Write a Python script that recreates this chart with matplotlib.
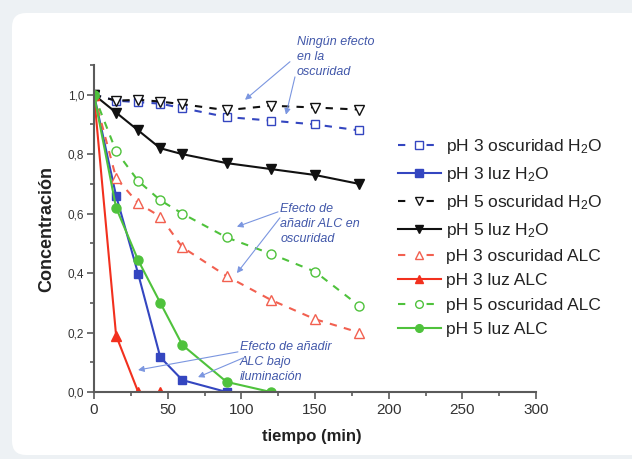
import numpy as np
import matplotlib
matplotlib.use("Agg")
import matplotlib.pyplot as plt
from matplotlib.patches import FancyBboxPatch
from matplotlib.ticker import MultipleLocator, FuncFormatter

plt.rcParams['font.family'] = ['Liberation Sans', 'DejaVu Sans']
plt.rcParams['mathtext.default'] = 'regular'

# tiempo de muestreo (min)
t_largo = [0, 15, 30, 45, 60, 90, 120, 150, 180]
t_azul_luz = [0, 15, 30, 45, 60, 90]
t_rojo_luz = [0, 15, 30, 45]
t_verde_luz = [0, 15, 30, 45, 60, 90, 120]

# concentración relativa
ph3_osc_h2o = [1.0, 0.98, 0.975, 0.97, 0.955, 0.925, 0.913, 0.90, 0.88]
ph3_luz_h2o = [1.0, 0.66, 0.397, 0.117, 0.04, 0.0]
ph5_osc_h2o = [1.0, 0.98, 0.983, 0.977, 0.968, 0.948, 0.963, 0.957, 0.95]
ph5_luz_h2o = [1.0, 0.94, 0.88, 0.82, 0.80, 0.77, 0.75, 0.73, 0.70]
ph3_osc_alc = [1.0, 0.72, 0.635, 0.59, 0.487, 0.39, 0.31, 0.245, 0.20]
ph3_luz_alc = [1.0, 0.19, 0.0, 0.0]
ph5_osc_alc = [1.0, 0.81, 0.71, 0.645, 0.60, 0.52, 0.465, 0.405, 0.29]
ph5_luz_alc = [1.0, 0.62, 0.443, 0.30, 0.158, 0.034, 0.0]

azul = '#3446c0'
rojo = '#f2301e'
rojo_claro = '#f26050'
verde = '#4fc23c'
negro = '#111111'

fig = plt.figure(figsize=(6.32, 4.59), dpi=100, facecolor='#edf1f4')
panel = FancyBboxPatch((12, 4), 640, 442, boxstyle='round,pad=0,rounding_size=14',
                       transform=None, facecolor='white', edgecolor='none', zorder=-10)
fig.patches.append(panel)

ax = fig.add_axes([94 / 632, 67 / 459, 442 / 632, 327 / 459])
ax.set_facecolor('none')

lw = 1.5
dash = (0, (3.5, 3.5))
ax.plot(t_largo, ph3_osc_h2o, linestyle=dash, color=azul, lw=lw, marker='s', ms=6,
        mfc='white', mec=azul, mew=1.0, label='pH 3 oscuridad H$_2$O')
ax.plot(t_azul_luz, ph3_luz_h2o, '-', color=azul, lw=lw, marker='s', ms=6,
        label='pH 3 luz H$_2$O')
ax.plot(t_largo, ph5_osc_h2o, linestyle=dash, color=negro, lw=lw, marker='v', ms=7.5,
        mfc='white', mec=negro, mew=1.0, label='pH 5 oscuridad H$_2$O')
ax.plot(t_largo, ph5_luz_h2o, '-', color=negro, lw=lw, marker='v', ms=7.5,
        label='pH 5 luz H$_2$O')
ax.plot(t_largo, ph3_osc_alc, linestyle=dash, color=rojo_claro, lw=lw, marker='^', ms=7.5,
        mfc='white', mec=rojo_claro, mew=1.0, label='pH 3 oscuridad ALC')
ax.plot(t_rojo_luz, ph3_luz_alc, '-', color=rojo, lw=lw, marker='^', ms=7.5,
        label='pH 3 luz ALC')
ax.plot(t_largo, ph5_osc_alc, linestyle=dash, color=verde, lw=lw, marker='o', ms=6.5,
        mfc='white', mec=verde, mew=1.0, label='pH 5 oscuridad ALC')
ax.plot(t_verde_luz, ph5_luz_alc, '-', color=verde, lw=lw, marker='o', ms=6.5,
        label='pH 5 luz ALC')

ax.set_xlim(0, 300)
ax.set_ylim(0, 1.1)
ax.xaxis.set_major_locator(MultipleLocator(50))
ax.xaxis.set_minor_locator(MultipleLocator(25))
ax.yaxis.set_major_locator(MultipleLocator(0.2))
ax.yaxis.set_minor_locator(MultipleLocator(0.1))
ax.yaxis.set_major_formatter(FuncFormatter(lambda v, p: f"{v:.1f}".replace('.', ',')))

for s in ['top', 'right']:
    ax.spines[s].set_visible(False)
for s in ['left', 'bottom']:
    ax.spines[s].set_color('#5a5a5a')
    ax.spines[s].set_linewidth(1.5)
ax.tick_params(which='both', direction='out', color='#5a5a5a', width=1.2)
ax.tick_params(which='major', length=5)
ax.tick_params(which='minor', length=3)
ax.tick_params(axis='x', labelsize=11, labelcolor='#333333', pad=3)
ax.tick_params(axis='y', labelsize=8.5, labelcolor='#333333', pad=2)

ax.set_xlabel('tiempo (min)', fontsize=12, fontweight='bold', color='#222222')
ax.set_ylabel('Concentración', fontsize=13, fontweight='bold', color='#222222')
ax.xaxis.set_label_coords(0.493, -0.113)
ax.yaxis.set_label_coords(-0.088, 0.5)

# notas con flechas
nota = dict(fontsize=9, style='italic', color='#4258aa', ha='left', va='top',
            linespacing=1.32, clip_on=False)
flecha = dict(arrowstyle='-|>,head_length=0.35,head_width=0.18', color='#7b96e0', lw=0.8,
              shrinkA=0, shrinkB=0)

ax.text(137.8, 1.198, 'Ningún efecto\nen la\noscuridad', **nota)
ax.annotate('', xy=(102.5, 0.983), xytext=(133, 1.111), arrowprops=flecha, annotation_clip=False)
ax.annotate('', xy=(130.3, 0.933), xytext=(136.4, 1.06), arrowprops=flecha, annotation_clip=False)

ax.text(126.5, 0.636, 'Efecto de\nañadir ALC en\noscuridad', **nota)
ax.annotate('', xy=(97, 0.556), xytext=(124.9, 0.606), arrowprops=flecha)
ax.annotate('', xy=(97, 0.40), xytext=(126.2, 0.586), arrowprops=flecha)

ax.text(99.1, 0.171, 'Efecto de añadir\nALC bajo\niluminación', **nota)
ax.annotate('', xy=(29.9, 0.074), xytext=(97.7, 0.135), arrowprops=flecha)
ax.annotate('', xy=(70.6, 0.05), xytext=(101, 0.114), arrowprops=flecha)

leg = fig.legend(loc='upper left', bbox_to_anchor=(398 / 632, 1 - 137 / 459), frameon=False,
                 fontsize=12.5, handlelength=2.45, handletextpad=0.3, labelspacing=0.52,
                 borderpad=0, borderaxespad=0, numpoints=1, markerscale=0.85,
                 labelcolor='#222222')
# en la leyenda: un trazo a cada lado del marcador abierto
for i, h in enumerate(leg.get_lines()):
    if i % 2 == 0:
        h.set_linestyle((0, (3.5, 10.2)))

fig.savefig('out.png', dpi=100, facecolor=fig.get_facecolor())
